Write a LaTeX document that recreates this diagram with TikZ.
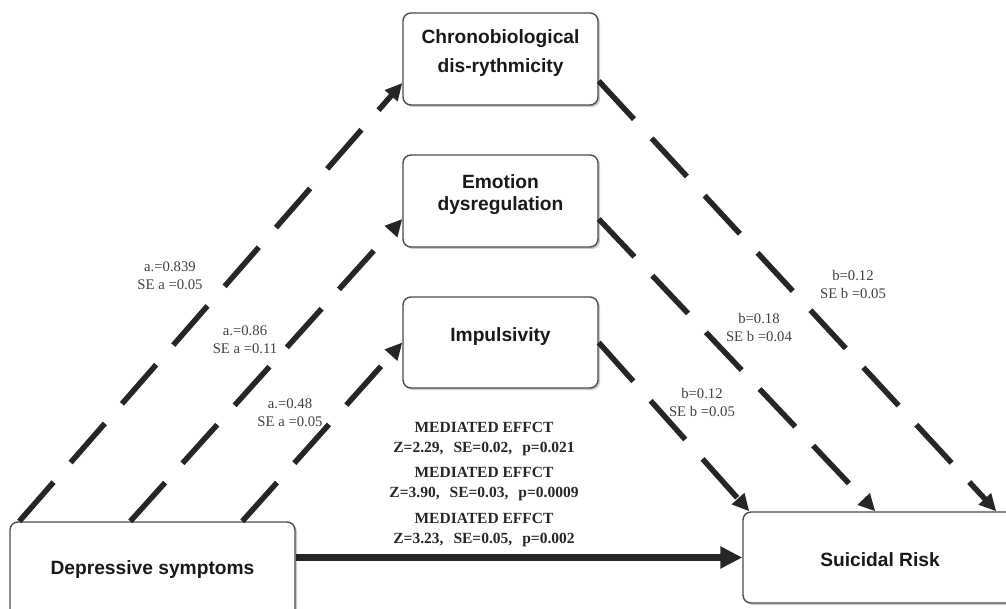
\documentclass[tikz,border=0pt]{standalone}
\usepackage{fontspec}
\setmainfont{Liberation Serif}
\newfontfamily\arialfont{Liberation Sans}
\usetikzlibrary{arrows.meta,shadows,calc}
\begin{document}
\begin{tikzpicture}[x=1pt,y=-1pt,
  box/.style={draw=black!70, line width=1.4pt, rounded corners=8pt, fill=white,
    drop shadow={shadow xshift=2pt,shadow yshift=-2pt,opacity=0.4}, inner sep=0pt},
  boxtext/.style={align=center, text=black!90, inner sep=0pt},
  dasharrow/.style={draw=black!85, line width=5.5pt, dash pattern=on 52pt off 26pt,
    -{Triangle[length=17pt,width=16pt]}},
  solidarrow/.style={draw=black!85, line width=7pt, -{Triangle[length=22pt,width=21pt]}},
  coef/.style={font=\fontsize{14.7}{18}\selectfont, text=black!75, align=center, inner sep=0pt},
  med/.style={font=\bfseries\fontsize{15.5}{20}\selectfont, text=black!85, align=center, inner sep=0pt},
]
\useasboundingbox (0,0) rectangle (1006,609);
\clip (0,0) rectangle (1006,609);

% boxes
\node[box, minimum width=195pt, minimum height=92pt] (chrono) at (500.5,59) {};
\node[box, minimum width=195pt, minimum height=92pt] (emo) at (500.5,201) {};
\node[box, minimum width=195pt, minimum height=91pt] (imp) at (500.5,342.5) {};
\node[box, minimum width=285pt, minimum height=96pt] (dep) at (152.5,570) {};
\node[box, minimum width=274pt, minimum height=91pt] (sui) at (880,557.5) {};

% box texts
\node[boxtext, font=\arialfont\bfseries\fontsize{19.2}{29}\selectfont] (chronoT) at (500.5,53) {Chronobiological\\dis-rythmicity};
\node[boxtext, font=\arialfont\bfseries\fontsize{19.2}{22}\selectfont] (emoT) at (500.5,195) {Emotion\\dysregulation};
\node[boxtext, font=\arialfont\bfseries\fontsize{19.2}{22}\selectfont] (impT) at (500.5,337) {Impulsivity};
\node[boxtext, font=\arialfont\bfseries\fontsize{19.2}{22}\selectfont] (depT) at (152.5,570) {Depressive symptoms};
\node[boxtext, font=\arialfont\bfseries\fontsize{19.2}{22}\selectfont] (suiT) at (880,560) {Suicidal Risk};

% a paths
\draw[dasharrow] ($(dep.north west)+(10,0)$) -- ($(chrono.west)+(0,24)$);
\draw[dasharrow] ($(dep.north west)+(121,0)$) -- ($(emo.west)+(0,18)$);
\draw[dasharrow] ($(dep.north west)+(233,0)$) -- (imp.west);
% b paths
\draw[dasharrow] ($(chrono.east)+(0,22)$) -- ($(sui.north west)+(254,0)$);
\draw[dasharrow] ($(emo.east)+(0,18)$) -- ($(sui.north west)+(133,0)$);
\draw[dasharrow] (imp.east) -- ($(sui.north west)+(7,0)$);
% direct path
\draw[solidarrow] (dep.east |- sui.west) -- (sui.west);

% coefficients
\node[coef] (la1) at (170,276) {a.=0.839\\SE a =0.05};
\node[coef] (la2) at (245,339.5) {a.=0.86\\SE a =0.11};
\node[coef] (la3) at (290,412.5) {a.=0.48\\SE a =0.05};
\node[coef] (lb1) at (853,284.5) {b=0.12\\SE b =0.05};
\node[coef] (lb2) at (759,328) {b=0.18\\SE b =0.04};
\node[coef] (lb3) at (702,402.5) {b=0.12\\SE b =0.05};

% mediated effects
\node[med] (m1) at (484,439) {MEDIATED EFFCT\\Z=2.29,\hspace{10pt}SE=0.02,\hspace{10pt}p=0.021};
\node[med] (m2) at (484,484) {MEDIATED EFFCT\\Z=3.90,\hspace{10pt}SE=0.03,\hspace{10pt}p=0.0009};
\node[med] (m3) at (484,530) {MEDIATED EFFCT\\Z=3.23,\hspace{10pt}SE=0.05,\hspace{10pt}p=0.002};
\end{tikzpicture}
\end{document}
